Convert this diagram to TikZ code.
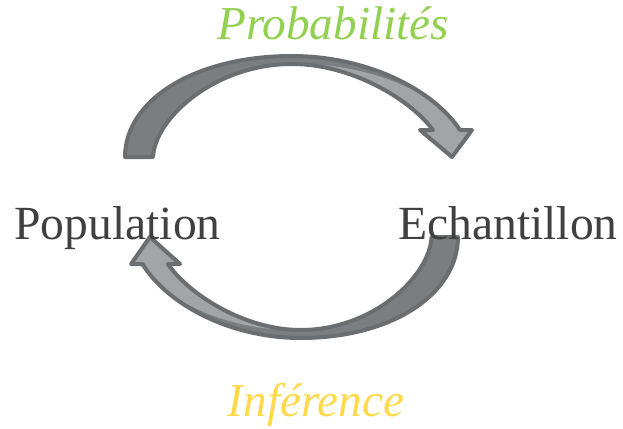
\documentclass[tikz,border=0pt]{standalone}
\usepackage{fontspec}
\setmainfont{Liberation Serif}
\definecolor{arrowdark}{HTML}{7B7E81}
\definecolor{arrowlight}{HTML}{A2A5A8}
\definecolor{arrowedge}{HTML}{6B6E71}
\definecolor{labelgray}{HTML}{404040}
\definecolor{probgreen}{HTML}{92D050}
\definecolor{infyellow}{HTML}{FFD94A}

\tikzset{
  labeltext/.style={font=\fontsize{23.8pt}{28pt}\selectfont, text=labelgray, anchor=base, inner sep=0pt},
  captiontext/.style={font=\fontsize{23.6pt}{28pt}\selectfont\itshape, anchor=base, inner sep=0pt},
  % curved arrow: dark back band, light front band with head, common outline
  cyclearrow/.pic={
    \fill[arrowdark]
      (125,157) .. controls (125,100) and (195,56) .. (292,56)
      .. controls (365,56) and (432,88) .. (460,130)
      -- (472,130) -- (452,157) -- (420,130) -- (433,130)
      .. controls (409,98) and (350,64) .. (292,64)
      .. controls (215,64) and (155,118) .. (153,157) -- cycle;
    \fill[arrowlight]
      (292,64) .. controls (355,62) and (432,86) .. (460,130)
      -- (472,130) -- (452,157) -- (420,130) -- (433,130)
      .. controls (409,98) and (350,64) .. (292,64) -- cycle;
    \draw[arrowedge, line width=2pt, line join=round]
      (125,157) .. controls (125,100) and (195,56) .. (292,56)
      .. controls (365,56) and (432,88) .. (460,130)
      -- (472,130) -- (452,157) -- (420,130) -- (433,130)
      .. controls (409,98) and (350,64) .. (292,64)
      .. controls (215,64) and (155,118) .. (153,157) -- cycle;
  }
}

\begin{document}
\begin{tikzpicture}[x=0.5pt, y=-0.5pt]
  \useasboundingbox (0,0) rectangle (623,429);

  % upper arrow (population -> sample) and lower arrow (sample -> population)
  \pic at (0,0) {cyclearrow};
  \pic[xscale=-0.942, yscale=-1] at (575.7,394) {cyclearrow};

  \node[labeltext] (pop) at (117.5,239) {Population};
  \node[labeltext] (ech) at (508,239) {Echantillon};
  \node[captiontext, text=probgreen] (prob) at (333,39) {Probabilités};
  \node[captiontext, text=infyellow] (inf) at (316,416) {Inférence};
\end{tikzpicture}
\end{document}
